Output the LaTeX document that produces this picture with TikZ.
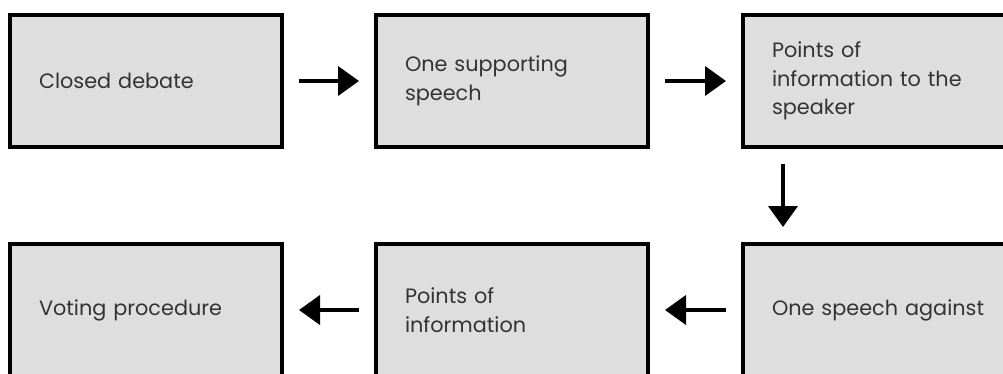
\documentclass[tikz,border=0pt]{standalone}
\usepackage{fontspec}
\setmainfont{Poppins}
\usetikzlibrary{arrows.meta,calc}
\definecolor{boxfill}{HTML}{DEDEDE}
\definecolor{boxtext}{HTML}{333333}
\tikzset{
  stepbox/.style={draw=black, line width=4pt, fill=boxfill, text=boxtext,
    minimum height=132pt, text width=214pt, inner xsep=29pt, inner ysep=0pt,
    outer sep=0pt, align=left, font=\fontsize{20.8}{28.5}\selectfont},
  flow/.style={line width=4pt, -{Triangle[length=21pt,width=29pt]},
    shorten <=17pt, shorten >=17pt}
}
\begin{document}
\begin{tikzpicture}[x=1pt,y=-1pt]
  \useasboundingbox (0,0) rectangle (1003,374);
  \clip (0,0) rectangle (1003,374);
  % top row
  \node[stepbox] (closed)  at (146,81) {Closed debate};
  \node[stepbox] (support) at (512,81) {One supporting\\speech};
  \node[stepbox] (poi)     at (879,81) {Points of\\information to the\\speaker};
  % bottom row
  \node[stepbox] (vote)    at (146,310) {Voting procedure};
  \node[stepbox] (poib)    at (512,310) {Points of\\information};
  \node[stepbox] (against) at (879,310) {One speech against};
  % connectors
  \draw[flow] (closed.east) -- (support.west);
  \draw[flow] (support.east) -- (poi.west);
  \draw[flow] ($(poi.south west)+(40,0)$) -- ($(against.north west)+(40,0)$);
  \draw[flow] (against.west) -- (poib.east);
  \draw[flow] (poib.west) -- (vote.east);
\end{tikzpicture}
\end{document}
